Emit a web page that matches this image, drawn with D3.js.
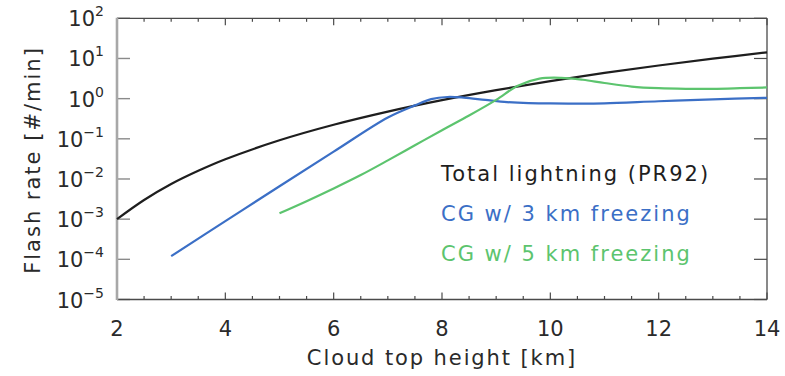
<!DOCTYPE html>
<html>
<head>
<meta charset="utf-8">
<script src="https://cdn.jsdelivr.net/npm/d3@7"></script>
<style>
  html, body { margin: 0; padding: 0; background: #fff; }
  svg { display: block; }
  text { font-family: "DejaVu Sans", sans-serif; }
</style>
</head>
<body>
<svg id="chart" width="785" height="376"></svg>
<script>
// Cloud top height [km] and flash rates [#/min]
const totalHeights = [2, 2.5, 3, 3.5, 4, 5, 6, 7, 8, 9, 10, 11, 12, 13, 14];
const totalRates   = [1.0e-3, 3.0e-3, 7.5e-3, 0.016, 0.031, 0.092, 0.224, 0.476, 0.918, 1.63, 2.73, 4.36, 6.68, 9.89, 14.2];

const cg3Heights = [3, 4, 5, 6, 7, 7.5, 7.8, 8.1, 8.4, 8.8, 9.2, 9.6, 10, 10.5, 11, 12, 13, 14];
const cg3Rates   = [1.2e-4, 8.9e-4, 6.6e-3, 0.048, 0.34, 0.68, 0.97, 1.1, 1.06, 0.93, 0.82, 0.77, 0.76, 0.75, 0.76, 0.86, 0.96, 1.05];

const cg5Heights = [5, 5.5, 6, 6.5, 7, 7.5, 8, 8.5, 9, 9.4, 9.8, 10.2, 10.6, 11, 11.5, 12, 12.5, 13, 13.5, 14];
const cg5Rates   = [1.4e-3, 2.8e-3, 5.8e-3, 0.0125, 0.029, 0.069, 0.164, 0.38, 0.93, 2.1, 3.15, 3.3, 2.95, 2.45, 2.0, 1.82, 1.76, 1.76, 1.82, 1.9];

const xTicks = [2, 4, 6, 8, 10, 12, 14];
const yExponents = [2, 1, 0, -1, -2, -3, -4, -5];

const seriesNames  = ["Total lightning (PR92)", "CG w/ 3 km freezing", "CG w/ 5 km freezing"];
const seriesColors = ["#1e1e1e", "#3b6fc6", "#5cc46e"];

const svg = d3.select("#chart");
const plotLeft = 117, plotRight = 767, plotTop = 18.3, plotBottom = 299.5;

const x = d3.scaleLinear().domain([2, 14]).range([plotLeft, plotRight]);
const y = d3.scaleLog().domain([1e-5, 1e2]).range([plotBottom, plotTop]);

const frame = "#4a4a4a";
const textColor = "#2a2a2a";

// minor x ticks every 0.5 km, longer at labelled heights
const minorX = d3.range(2, 14.001, 0.5);
const gTicks = svg.append("g");
[plotBottom, plotTop].forEach((yy, i) => {
  const dir = i === 0 ? -1 : 1;
  gTicks.selectAll(null).data(minorX).enter().append("line")
    .attr("x1", d => x(d)).attr("x2", d => x(d))
    .attr("y1", yy).attr("y2", d => yy + dir * (xTicks.includes(d) ? 7 : 3.5))
    .attr("stroke", frame).attr("stroke-width", 1.2);
});
// y ticks on both sides at each decade
const decades = yExponents.map(e => Math.pow(10, e));
gTicks.selectAll(null).data(decades).enter().append("line")
  .attr("x1", plotLeft).attr("x2", plotLeft + 13)
  .attr("y1", d => y(d)).attr("y2", d => y(d))
  .attr("stroke", "#8a8a8a").attr("stroke-width", 1.4);
gTicks.selectAll(null).data(decades).enter().append("line")
  .attr("x1", plotRight).attr("x2", plotRight - 13)
  .attr("y1", d => y(d)).attr("y2", d => y(d))
  .attr("stroke", frame).attr("stroke-width", 1.2);

// frame
svg.append("line").attr("x1", plotLeft).attr("x2", plotRight).attr("y1", plotTop).attr("y2", plotTop)
  .attr("stroke", frame).attr("stroke-width", 1.3);
svg.append("line").attr("x1", plotLeft).attr("x2", plotRight).attr("y1", plotBottom).attr("y2", plotBottom)
  .attr("stroke", frame).attr("stroke-width", 1.3);
svg.append("line").attr("x1", plotRight).attr("x2", plotRight).attr("y1", plotTop).attr("y2", plotBottom)
  .attr("stroke", frame).attr("stroke-width", 1.3);
svg.append("line").attr("x1", plotLeft).attr("x2", plotLeft).attr("y1", plotTop - 0.6).attr("y2", plotBottom + 0.6)
  .attr("stroke", "#a8a8a8").attr("stroke-width", 2.6);

// x tick labels
svg.append("g").selectAll("text").data(xTicks).enter().append("text")
  .attr("x", d => x(d)).attr("y", 336)
  .attr("text-anchor", "middle")
  .attr("font-size", 21).attr("fill", textColor)
  .text(d => d);

// y tick labels as powers of ten
const yl = svg.append("g").selectAll("text").data(yExponents).enter().append("text")
  .attr("x", 104).attr("y", d => y(Math.pow(10, d)) + 8)
  .attr("text-anchor", "end")
  .attr("fill", textColor);
yl.append("tspan").attr("font-size", 21).text("10");
yl.append("tspan").attr("font-size", 14).attr("dy", -10)
  .text(d => d < 0 ? "\u2212" + Math.abs(d) : String(d));

// axis titles
svg.append("text")
  .attr("x", 442).attr("y", 365).attr("text-anchor", "middle")
  .attr("font-size", 21).attr("fill", textColor)
  .attr("letter-spacing", 1.9)
  .text("Cloud top height [km]");
svg.append("text")
  .attr("transform", "translate(40,160) rotate(-90)")
  .attr("text-anchor", "middle")
  .attr("font-size", 21).attr("fill", textColor)
  .attr("letter-spacing", 2.0)
  .text("Flash rate [#/min]");

// curves
const line = d3.line()
  .x(d => x(d[0]))
  .y(d => y(d[1]))
  .curve(d3.curveCatmullRom.alpha(0.5));

const series = [
  d3.zip(totalHeights, totalRates),
  d3.zip(cg3Heights, cg3Rates),
  d3.zip(cg5Heights, cg5Rates)
];
svg.append("g").selectAll("path").data(series).enter().append("path")
  .attr("d", line)
  .attr("fill", "none")
  .attr("stroke", (d, i) => seriesColors[i])
  .attr("stroke-width", 2.2)
  .attr("stroke-linejoin", "round");

// legend
svg.append("g").selectAll("text").data(seriesNames).enter().append("text")
  .attr("x", 441).attr("y", (d, i) => 181 + i * 40)
  .attr("font-size", 21)
  .attr("letter-spacing", 2.0)
  .attr("fill", (d, i) => seriesColors[i])
  .text(d => d);
</script>
</body>
</html>
